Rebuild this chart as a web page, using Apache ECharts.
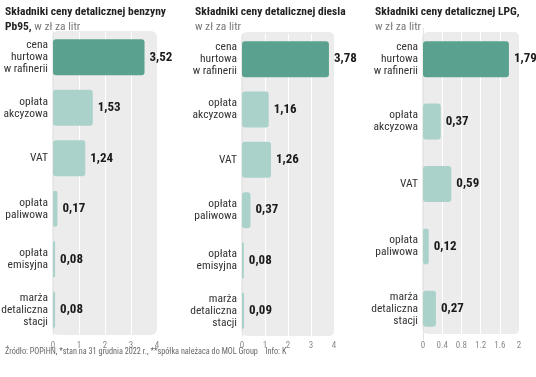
<!DOCTYPE html>
<html>
<head>
<meta charset="utf-8">
<script src="https://cdn.jsdelivr.net/npm/echarts@6/dist/echarts.min.js"></script>
<style>
  html, body { margin: 0; padding: 0; background: #fff; }
  #chart { width: 536px; height: 377px; }
</style>
</head>
<body>
<div id="chart"></div>
<script>
// dane
var petrolCats = ['cena\nhurtowa\nw rafinerii', 'opłata\nakcyzowa', 'VAT', 'opłata\npaliwowa', 'opłata\nemisyjna', 'marża\ndetaliczna\nstacji'];
var petrolVals = [3.52, 1.53, 1.24, 0.17, 0.08, 0.08];
var dieselCats = ['cena\nhurtowa\nw rafinerii', 'opłata\nakcyzowa', 'VAT', 'opłata\npaliwowa', 'opłata\nemisyjna', 'marża\ndetaliczna\nstacji'];
var dieselVals = [3.78, 1.16, 1.26, 0.37, 0.08, 0.09];
var lpgCats = ['cena\nhurtowa\nw rafinerii', 'opłata\nakcyzowa', 'VAT', 'opłata\npaliwowa', 'marża\ndetaliczna\nstacji'];
var lpgVals = [1.79, 0.37, 0.59, 0.12, 0.27];

var FONT = 'Roboto Condensed, Liberation Sans Narrow, Roboto, sans-serif';
var DARK = '#5aa28f';
var LIGHT = '#aad2cb';

var chart = echarts.init(document.getElementById('chart'));

function xAx(grid, max, interval, margin) {
	return {
		type: 'value',
		gridIndex: grid,
		min: 0,
		max: max,
		interval: interval,
		axisLine: { show: false },
		axisTick: { show: false },
		splitLine: { show: true, lineStyle: { color: '#fff', width: 1 } },
		axisLabel: { color: '#8a8a8a', fontSize: 9, fontFamily: FONT, margin: margin }
	};
}

function yAx(grid, cats) {
	return {
		type: 'category',
		gridIndex: grid,
		data: cats,
		inverse: true,
		axisLine: { show: true, lineStyle: { color: '#e4e4e4' } },
		axisTick: { show: false },
		axisLabel: { color: '#333', fontSize: 11.5, lineHeight: 12, fontFamily: FONT, margin: 5 }
	};
}

function barSeries(idx, vals) {
	return {
		type: 'bar',
		xAxisIndex: idx,
		yAxisIndex: idx,
		barWidth: 36,
		data: vals,
		itemStyle: {
			borderRadius: 3,
			color: function (p) { return p.dataIndex === 0 ? DARK : LIGHT; }
		},
		label: {
			show: true,
			position: 'right',
			distance: 5,
			color: '#1a1a1a',
			fontSize: 13,
			fontWeight: 'bold',
			fontFamily: FONT,
			formatter: function (p) { return p.value.toFixed(2).replace('.', ','); }
		}
	};
}

function box(x, y, w, h) {
	return { type: 'rect', z: -10, shape: { x: x, y: y, width: w, height: h, r: 6 }, style: { fill: '#ececec' } };
}

var titleRich = {
	b: { fontWeight: 'bold', fontSize: 11.5, color: '#222', fontFamily: FONT, lineHeight: 15 },
	n: { fontWeight: 'normal', fontSize: 11.5, color: '#777', fontFamily: FONT, lineHeight: 15 }
};

var option = {
	animation: false,
	title: [{
		left: 0, top: 0,
		text: '{b|Składniki ceny detalicznej benzyny}\n{b|Pb95,}{n| w zł za litr}',
		textStyle: { rich: titleRich }
	}, {
		left: 190, top: 0,
		text: '{b|Składniki ceny detalicznej diesla}\n{n|w zł za litr}',
		textStyle: { rich: titleRich }
	}, {
		left: 370, top: 0,
		text: '{b|Składniki ceny detalicznej LPG,}\n{n|w zł za litr}',
		textStyle: { rich: titleRich }
	}, {
		left: 0, top: 343,
		text: 'Źródło: POPiHN, *stan na 31 grudnia 2022 r., **spółka należaca do MOL Group    Info: K',
		textStyle: { fontSize: 8.2, fontWeight: 'normal', color: '#666', fontFamily: FONT }
	}],
	graphic: [box(52, 31, 105, 304), box(241, 32, 94, 304), box(422, 32, 98, 302)],
	grid: [
		{ left: 53, top: 32, width: 104, height: 303, outerBoundsMode: 'none' },
		{ left: 242, top: 34, width: 92, height: 302, outerBoundsMode: 'none' },
		{ left: 423, top: 28, width: 96, height: 312, outerBoundsMode: 'none' }
	],
	xAxis: [xAx(0, 4, 1, 6), xAx(1, 4, 1, 5), xAx(2, 2, 0.4, 1)],
	yAxis: [yAx(0, petrolCats), yAx(1, dieselCats), yAx(2, lpgCats)],
	series: [barSeries(0, petrolVals), barSeries(1, dieselVals), barSeries(2, lpgVals)]
};

chart.setOption(option);
</script>
</body>
</html>
